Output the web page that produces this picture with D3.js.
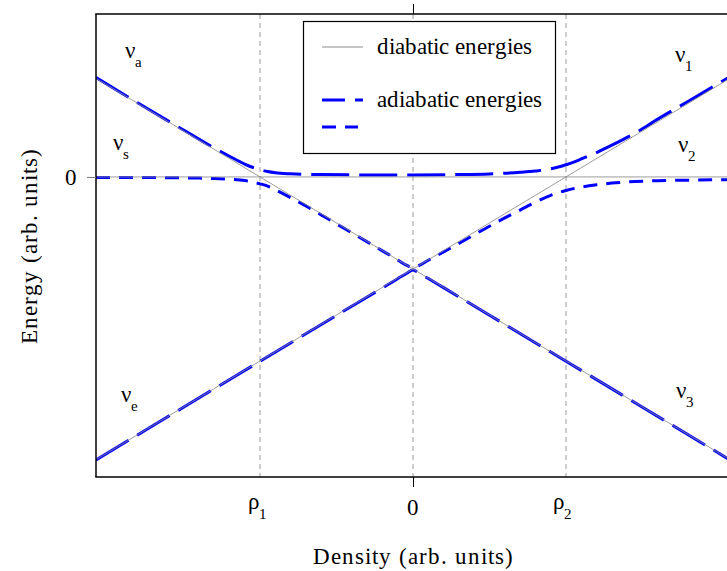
<!DOCTYPE html>
<html>
<head>
<meta charset="utf-8">
<script src="https://cdn.jsdelivr.net/npm/d3@7"></script>
<style>
  @font-face {
    font-family: "PlotSerif";
    src: local("Liberation Serif"), local("LiberationSerif"), local("LiberationSerif-Regular");
  }
</style>
</head>
<body style="margin:0; background:#fff">
<svg id="energyPlot" width="727" height="571" style="display:block"></svg>
<script>
// Density axis in units of the resonance density, energy in arbitrary units.
const xDomain = [-2.072, 2.072];
const yDomain = [-3.26, 1.77];

// Resonance densities and their tick labels
const xTickValues = [-1, 0, 1];
const xTickBase = ["ρ", "0", "ρ"];
const xTickSub = ["1", "", "2"];
const yTickValues = [0];
const yTickLabels = ["0"];

// Diabatic (flavour) energies: straight lines, given by their end points
const diabaticA = [[-2.072, 1.072], [2.072, -3.072]];   // ν_a → ν_3
const diabaticE = [[-2.072, -3.072], [2.072, 1.072]];   // ν_e → ν_1
const diabaticS = [[-2.072, 0], [2.072, 0]];            // ν_s

// Adiabatic (matter eigenstate) energies
const adiabaticUpper = [
  [-2.072, 1.08], [-1.8, 0.805], [-1.5, 0.51], [-1.3, 0.315], [-1.2, 0.225],
  [-1.1, 0.14], [-1.05, 0.105], [-1.0, 0.078], [-0.95, 0.058], [-0.9, 0.045],
  [-0.8, 0.034], [-0.6, 0.026], [-0.3, 0.022], [0, 0.022], [0.3, 0.026],
  [0.5, 0.033], [0.6, 0.04], [0.7, 0.05], [0.8, 0.064], [0.9, 0.088],
  [0.95, 0.108], [1.0, 0.132], [1.05, 0.16], [1.1, 0.195], [1.2, 0.265],
  [1.3, 0.345], [1.45, 0.475], [1.6, 0.628], [1.8, 0.822], [2.072, 1.09]
];
const adiabaticMiddle = [
  [-2.072, -0.005], [-1.8, -0.006], [-1.6, -0.009], [-1.4, -0.013], [-1.3, -0.018],
  [-1.2, -0.026], [-1.1, -0.04], [-1.05, -0.055], [-1.0, -0.075], [-0.95, -0.1],
  [-0.9, -0.14], [-0.8, -0.225], [-0.7, -0.315], [-0.6, -0.412], [-0.4, -0.607],
  [-0.2, -0.803], [-0.1, -0.902], [-0.04, -0.962], [0, -0.988], [0.04, -0.962],
  [0.1, -0.905], [0.2, -0.815], [0.4, -0.628], [0.6, -0.445], [0.7, -0.36],
  [0.8, -0.275], [0.9, -0.2], [0.95, -0.172], [1.0, -0.148], [1.05, -0.127],
  [1.1, -0.11], [1.2, -0.085], [1.3, -0.067], [1.45, -0.05], [1.6, -0.041],
  [1.8, -0.035], [2.072, -0.03]
];
const adiabaticLower = [
  [-2.072, -3.075], [-1.5, -2.502], [-1.0, -2.003], [-0.5, -1.504], [-0.2, -1.206],
  [-0.1, -1.106], [-0.04, -1.046], [0, -1.012], [0.04, -1.046], [0.1, -1.104],
  [0.2, -1.203], [0.5, -1.502], [1.0, -2.002], [1.5, -2.502], [2.072, -3.075]
];

// State labels placed next to the curves: [x, E, name, subscript]
const stateLabels = [
  [-1.88, 1.29, "ν", "a"],
  [-1.96, 0.29, "ν", "s"],
  [-1.91, -2.44, "ν", "e"],
  [1.71, 1.25, "ν", "1"],
  [1.73, 0.27, "ν", "2"],
  [1.72, -2.40, "ν", "3"]
];

const SERIF = '"PlotSerif", "Liberation Serif", "Times New Roman", serif';
const svg = d3.select("#energyPlot");
const x = d3.scaleLinear().domain(xDomain).range([96, 730]);
const y = d3.scaleLinear().domain(yDomain).range([477, 14]);

// Text helper: serif face on every label
function addText(parent, size) {
  return parent.append("text")
    .attr("font-family", SERIF)
    .style("font-family", SERIF)
    .attr("font-size", size)
    .attr("fill", "#000");
}

svg.append("defs").append("clipPath").attr("id", "plotClip")
  .append("rect")
  .attr("x", x(xDomain[0])).attr("y", y(yDomain[1]))
  .attr("width", x(xDomain[1]) - x(xDomain[0]))
  .attr("height", y(yDomain[0]) - y(yDomain[1]));

const plot = svg.append("g").attr("clip-path", "url(#plotClip)");

// Vertical guides at the resonances and at zero density
plot.selectAll("line.guide").data(xTickValues).enter().append("line")
  .attr("class", "guide")
  .attr("x1", d => x(d)).attr("x2", d => x(d))
  .attr("y1", y(yDomain[1])).attr("y2", y(yDomain[0]))
  .attr("stroke", "#9a9a9a").attr("stroke-width", 1)
  .attr("stroke-dasharray", "5,4");

const line = d3.line().x(d => x(d[0])).y(d => y(d[1]));
const smooth = d3.line().x(d => x(d[0])).y(d => y(d[1])).curve(d3.curveMonotoneX);

// Adiabatic curves
const longDash = "38,10";
const shortDash = "14,9";
[[adiabaticUpper, longDash], [adiabaticMiddle, shortDash], [adiabaticLower, longDash]]
  .forEach(([pts, dash]) => {
    plot.append("path").datum(pts)
      .attr("d", smooth)
      .attr("fill", "none")
      .attr("stroke", "#0000ff")
      .attr("stroke-width", 3)
      .attr("stroke-dasharray", dash);
  });

// Diabatic lines drawn on top
[diabaticA, diabaticE, diabaticS].forEach(pts => {
  plot.append("path").datum(pts)
    .attr("d", line)
    .attr("fill", "none")
    .attr("stroke", "#8c8c8c")
    .attr("stroke-opacity", 0.85)
    .attr("stroke-width", 1);
});

// Legend
const lg = svg.append("g");
lg.append("rect").attr("x", 303.5).attr("y", 21.5).attr("width", 252).attr("height", 132)
  .attr("fill", "#fff").attr("stroke", "#000").attr("stroke-width", 1.2);
lg.append("line").attr("x1", 322).attr("x2", 363).attr("y1", 47).attr("y2", 47)
  .attr("stroke", "#8c8c8c").attr("stroke-width", 1);
addText(lg, 23).attr("x", 377).attr("y", 54).text("diabatic energies");
lg.append("line").attr("x1", 322).attr("x2", 363).attr("y1", 100).attr("y2", 100)
  .attr("stroke", "#0000ff").attr("stroke-width", 3).attr("stroke-dasharray", "23,10,8,10");
addText(lg, 23).attr("x", 377).attr("y", 107).text("adiabatic energies");
lg.append("line").attr("x1", 322).attr("x2", 358).attr("y1", 127).attr("y2", 127)
  .attr("stroke", "#0000ff").attr("stroke-width", 3).attr("stroke-dasharray", "14,9");

// State labels
stateLabels.forEach(([lx, ly, base, sub]) => {
  const t = addText(svg, 23).attr("x", x(lx)).attr("y", y(ly));
  t.append("tspan").text(base);
  t.append("tspan").attr("font-size", 15).attr("dy", 9).text(sub);
});

// Frame
const fr = svg.append("g").attr("stroke", "#000").attr("stroke-width", 1.5).attr("fill", "none");
fr.append("line").attr("x1", x(xDomain[0])).attr("x2", x(xDomain[0])).attr("y1", y(yDomain[1])).attr("y2", y(yDomain[0]));
fr.append("line").attr("x1", x(xDomain[0]) - 0.75).attr("x2", x(xDomain[1])).attr("y1", y(yDomain[0])).attr("y2", y(yDomain[0]));
fr.append("line").attr("x1", x(xDomain[0]) - 0.75).attr("x2", x(xDomain[1])).attr("y1", y(yDomain[1])).attr("y2", y(yDomain[1]));

// Axes: single ticks at zero density / zero energy
const bottomAxis = svg.append("g").attr("transform", `translate(0,${y(yDomain[0])})`)
  .call(d3.axisBottom(x).tickValues([0]).tickSize(10).tickFormat(""));
const topAxis = svg.append("g").attr("transform", `translate(0,${y(yDomain[1])})`)
  .call(d3.axisTop(x).tickValues([0]).tickSize(10).tickFormat(""));
const leftAxis = svg.append("g").attr("transform", `translate(${x(xDomain[0])},0)`)
  .call(d3.axisLeft(y).tickValues(yTickValues).tickSize(9).tickPadding(10)
    .tickFormat((d, i) => yTickLabels[i]));
[bottomAxis, topAxis, leftAxis].forEach(a => {
  a.select(".domain").remove();
  a.attr("font-family", SERIF).attr("font-size", 23);
});
bottomAxis.selectAll(".tick line").attr("stroke", "#000").attr("stroke-width", 1);
topAxis.selectAll(".tick line").attr("stroke", "#000").attr("stroke-width", 1);
leftAxis.selectAll(".tick line").attr("stroke", "#777").attr("stroke-width", 1);
leftAxis.selectAll(".tick text").style("font-family", SERIF)
  .attr("fill", "#000").attr("dy", "0.32em");

// Density tick labels with subscripts
xTickValues.forEach((v, i) => {
  const hasSub = xTickSub[i] !== "";
  const t = addText(svg, 23).attr("x", x(v) + (hasSub ? -3 : 0))
    .attr("y", hasSub ? 509 : 515).attr("text-anchor", "middle");
  t.append("tspan").text(xTickBase[i]);
  if (hasSub) t.append("tspan").attr("font-size", 15).attr("dy", 10).text(xTickSub[i]);
});

// Axis titles
addText(svg, 23).attr("x", x(0)).attr("y", 564).attr("text-anchor", "middle")
  .attr("letter-spacing", 1).text("Density (arb. units)");
addText(svg, 23).attr("transform", `translate(37,${(y(yDomain[0]) + y(yDomain[1])) / 2}) rotate(-90)`)
  .attr("text-anchor", "middle").attr("letter-spacing", 1)
  .text("Energy (arb. units)");
</script>
</body>
</html>
